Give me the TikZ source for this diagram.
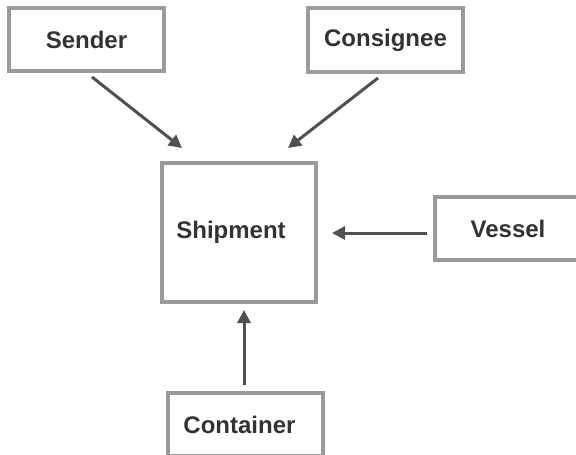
\documentclass[tikz,border=0pt]{standalone}
\usepackage{fontspec}
\setmainfont{Liberation Sans}
\usetikzlibrary{arrows.meta}
\definecolor{boxline}{HTML}{9A9A9A}
\definecolor{arrowgray}{HTML}{505050}
\definecolor{textgray}{HTML}{333333}
\begin{document}
\begin{tikzpicture}[x=1pt,y=-1pt,
  labelfont/.style={font=\fontsize{24}{28}\selectfont\bfseries, text=textgray},
  entity/.style={draw=boxline, line width=3.5pt, fill=white, inner sep=0pt, labelfont},
  conn/.style={draw=arrowgray, line width=3pt,
    -{Triangle[length=13pt,width=13pt]}}]
  \useasboundingbox (0,0) rectangle (576,455);

  % entity boxes
  \node[entity, minimum width=155pt, minimum height=63pt] (sender) at (86.5,39.5) {Sender};
  \node[entity, minimum width=155pt, minimum height=64pt] (consignee) at (385.5,40) {Consignee};
  \node[entity, minimum width=154pt, minimum height=139pt,
        label={[labelfont, xshift=-8pt]center:Shipment}]
        (shipment) at (239,232.5) {};
  \node[entity, minimum width=146pt, minimum height=63pt] (vessel) at (508,228.5) {Vessel};
  \node[entity, minimum width=155pt, minimum height=63pt,
        label={[labelfont, xshift=-6pt]center:Container}]
        (container) at (245.5,424.5) {};

  % connector end points
  \coordinate (sA) at (92,77);
  \coordinate (sB) at (182,148);
  \coordinate (cA) at (378,78);
  \coordinate (cB) at (288,148);
  \coordinate (vA) at (427,233);
  \coordinate (vB) at (332,233);
  \coordinate (kA) at (244,385);
  \coordinate (kB) at (244,310);

  % connectors
  \draw[conn] (sA) -- (sB);
  \draw[conn] (cA) -- (cB);
  \draw[conn] (vA) -- (vB);
  \draw[conn] (kA) -- (kB);
\end{tikzpicture}
\end{document}
